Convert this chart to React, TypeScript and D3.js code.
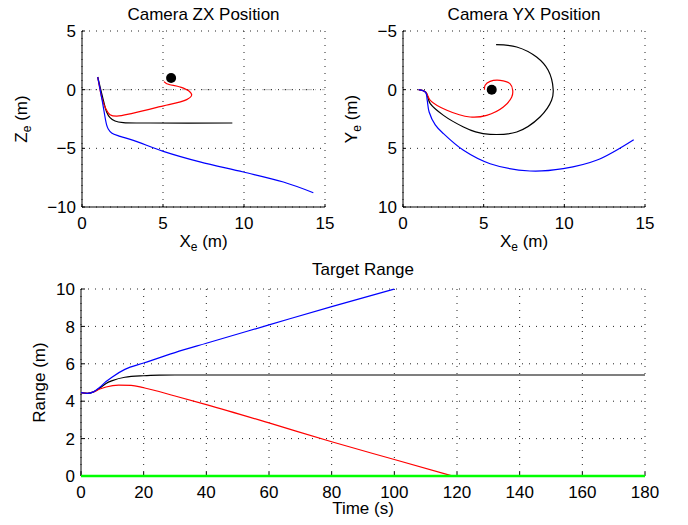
import React from 'react';
import * as d3 from 'd3';

// ---- Camera ZX position (x, z) ----
const zxBlueX = [0.97, 1.25, 1.52, 1.62, 1.83, 2.35, 3.17, 5.02, 7.28, 9.96, 12.43, 14.28];
const zxBlueZ = [1.08, -0.95, -3.0, -3.35, -3.69, -3.98, -4.32, -5.26, -6.16, -7.02, -7.87, -8.78];
const zxBlackX = [0.97, 1.32, 1.52, 1.73, 2.04, 2.55, 4.2, 9.28];
const zxBlackZ = [1.08, -0.91, -1.9, -2.39, -2.67, -2.81, -2.84, -2.84];
const zxRedX = [0.97, 1.21, 1.42, 1.73, 2.14, 3.17, 4.81, 6.46, 6.77, 6.6, 6.05, 5.23, 5.06];
const zxRedZ = [1.08, -0.63, -1.48, -2.13, -2.26, -2.0, -1.45, -0.85, -0.45, -0.11, 0.23, 0.51, 0.68];

// ---- Camera YX position (x, y) ----
const yxBlackX = [0.97, 1.4, 1.69, 2.51, 3.75, 4.5, 5.4, 7.05, 8.49, 9.21, 9.31, 9.0, 8.28, 7.05, 5.77];
const yxBlackY = [0, 0.2, 1.19, 2.19, 3.18, 3.6, 3.81, 3.61, 2.33, 0.91, 0, -1.65, -2.78, -3.64, -3.84];
const yxRedX = [0.97, 1.4, 1.69, 2.72, 4.16, 5.19, 6.22, 6.74, 6.8, 6.63, 6.02, 5.4, 5.09, 5.05];
const yxRedY = [0, 0.2, 0.91, 1.76, 2.33, 2.19, 1.48, 0.63, 0.06, -0.51, -0.8, -0.71, -0.37, 0.0];
const yxBlueX = [0.97, 1.4, 1.5, 1.62, 2.0, 2.51, 3.75, 5.4, 7.87, 9.93, 11.99, 14.3];
const yxBlueY = [0, 0.22, 0.9, 1.9, 3.0, 3.75, 5.17, 6.31, 6.93, 6.73, 6.02, 4.26];

const target = { x: 5.5, z: 1.0, y: 0 };

// ---- Target range vs time ----
const blueT = [0, 2, 4, 6, 8, 10, 14, 20, 30, 40, 60, 80, 100];
const blueR = [4.46, 4.42, 4.5, 4.75, 5.05, 5.3, 5.7, 6.04, 6.6, 7.1, 8.08, 9.06, 10.0];
const blackT = [0, 2, 4, 6, 8, 10, 14, 20, 25, 30, 180];
const blackR = [4.46, 4.42, 4.5, 4.7, 4.95, 5.1, 5.28, 5.36, 5.39, 5.4, 5.4];
const redT = [0, 2, 4, 6, 8, 12, 16, 20, 30, 40, 60, 80, 100, 118.5];
const redR = [4.46, 4.42, 4.5, 4.65, 4.76, 4.86, 4.85, 4.72, 4.28, 3.82, 2.84, 1.83, 0.88, 0];
const greenT = [0, 180];
const greenR = [0, 0];

const posTicksX = [0, 5, 10, 15];
const zxTicks = [5, 0, -5, -10];
const yxTicks = [-5, 0, 5, 10];
const timeTicks = [0, 20, 40, 60, 80, 100, 120, 140, 160, 180];
const rangeTicks = [0, 2, 4, 6, 8, 10];

const FONT = 'Liberation Sans, Arial, Helvetica, sans-serif';
const FS = 17;
const fmt = (v: number) => (v < 0 ? '\u2212' + Math.abs(v) : String(v));

const zip = (xs: number[], ys: number[]) => xs.map((x, i) => [x, ys[i]] as [number, number]);

type Scale = d3.ScaleLinear<number, number>;

const Axes: React.FC<{ x: Scale; y: Scale; xt: number[]; yt: number[]; tick: number }> = ({ x, y, xt, yt, tick }) => {
  const [x0, x1] = x.range();
  const ys = y.range();
  const yb = Math.max(...ys);
  const ytop = Math.min(...ys);
  return (
    <g>
      {xt.map((t) => (
        <line key={'gx' + t} x1={x(t)} x2={x(t)} y1={ytop} y2={yb} stroke="#222" strokeDasharray="1,6" />
      ))}
      {yt.map((t) => (
        <line key={'gy' + t} x1={x0} x2={x1} y1={y(t)} y2={y(t)} stroke="#222" strokeDasharray="1,6" />
      ))}
      <line x1={x0} x2={x1} y1={yb} y2={yb} stroke="#000" />
      <line x1={x0} x2={x0} y1={ytop} y2={yb} stroke="#000" />
      {xt.map((t) => (
        <g key={'tx' + t}>
          <line x1={x(t)} x2={x(t)} y1={yb} y2={yb - tick} stroke="#000" />
          <text x={x(t)} y={yb + 21.5} textAnchor="middle" fontSize={FS} fontFamily={FONT}>
            {fmt(t)}
          </text>
        </g>
      ))}
      {yt.map((t) => (
        <g key={'ty' + t}>
          <line x1={x0} x2={x0 + tick} y1={y(t)} y2={y(t)} stroke="#000" />
          <text x={x0 - 6} y={y(t)} dy="0.36em" textAnchor="end" fontSize={FS} fontFamily={FONT}>
            {fmt(t)}
          </text>
        </g>
      ))}
    </g>
  );
};

export default function App() {
  const xA = d3.scaleLinear().domain([0, 15]).range([82, 325]);
  const zA = d3.scaleLinear().domain([-10, 5]).range([207, 31]);
  const xB = d3.scaleLinear().domain([0, 15]).range([403, 645]);
  const yB = d3.scaleLinear().domain([-5, 10]).range([31, 207]);
  const tC = d3.scaleLinear().domain([0, 180]).range([81, 645]);
  const rC = d3.scaleLinear().domain([0, 10]).range([476, 289]);

  const pathA = d3.line<[number, number]>().x((d) => xA(d[0])).y((d) => zA(d[1])).curve(d3.curveCatmullRom.alpha(0.5));
  const pathB = d3.line<[number, number]>().x((d) => xB(d[0])).y((d) => yB(d[1])).curve(d3.curveCatmullRom.alpha(0.5));
  const pathC = d3.line<[number, number]>().x((d) => tC(d[0])).y((d) => rC(d[1])).curve(d3.curveMonotoneX);

  const sub = (main: string, s: string, rest: string) => (
    <>
      {main}
      <tspan fontSize={12} dy={4}>{s}</tspan>
      <tspan dy={-4}>{rest}</tspan>
    </>
  );

  return (
    <svg width={688} height={525} style={{ position: 'absolute', left: 0, top: 0, background: '#fff' }} fontFamily={FONT}>
      <rect width={688} height={525} fill="#fff" />

      {/* Camera ZX */}
      <line x1={xA(0)} x2={xA(15)} y1={zA(0)} y2={zA(0)} stroke="#bbb" strokeDasharray="10,3,1,6" />
      <Axes x={xA} y={zA} xt={posTicksX} yt={zxTicks} tick={3} />
      <path d={pathA(zip(zxBlackX, zxBlackZ)) ?? ''} fill="none" stroke="#000" strokeWidth={1.2} />
      <path d={pathA(zip(zxRedX, zxRedZ)) ?? ''} fill="none" stroke="#f00" strokeWidth={1.2} />
      <path d={pathA(zip(zxBlueX, zxBlueZ)) ?? ''} fill="none" stroke="#00f" strokeWidth={1.2} />
      <circle cx={xA(target.x)} cy={zA(target.z)} r={5} fill="#000" />
      <text x={203.5} y={20} textAnchor="middle" fontSize={FS}>Camera ZX Position</text>
      <text x={203.5} y={247} textAnchor="middle" fontSize={FS}>{sub('X', 'e', ' (m)')}</text>
      <text transform="translate(27,119) rotate(-90)" textAnchor="middle" fontSize={FS}>{sub('Z', 'e', ' (m)')}</text>

      {/* Camera YX */}
      <Axes x={xB} y={yB} xt={posTicksX} yt={yxTicks} tick={3} />
      <path d={pathB(zip(yxBlackX, yxBlackY)) ?? ''} fill="none" stroke="#000" strokeWidth={1.2} />
      <path d={pathB(zip(yxRedX, yxRedY)) ?? ''} fill="none" stroke="#f00" strokeWidth={1.2} />
      <path d={pathB(zip(yxBlueX, yxBlueY)) ?? ''} fill="none" stroke="#00f" strokeWidth={1.2} />
      <circle cx={xB(target.x)} cy={yB(target.y)} r={5} fill="#000" />
      <text x={524} y={20} textAnchor="middle" fontSize={FS}>Camera YX Position</text>
      <text x={524} y={247} textAnchor="middle" fontSize={FS}>{sub('X', 'e', ' (m)')}</text>
      <text transform="translate(357,119) rotate(-90)" textAnchor="middle" fontSize={FS}>{sub('Y', 'e', ' (m)')}</text>

      {/* Target range */}
      <Axes x={tC} y={rC} xt={timeTicks} yt={rangeTicks} tick={4} />
      <path d={pathC(zip(blackT, blackR)) ?? ''} fill="none" stroke="#000" strokeWidth={1.2} />
      <path d={pathC(zip(redT, redR)) ?? ''} fill="none" stroke="#f00" strokeWidth={1.2} />
      <path d={pathC(zip(blueT, blueR)) ?? ''} fill="none" stroke="#00f" strokeWidth={1.2} />
      <path d={pathC(zip(greenT, greenR)) ?? ''} fill="none" stroke="#0f0" strokeWidth={2.5} />
      <text x={363} y={275} textAnchor="middle" fontSize={FS}>Target Range</text>
      <text x={363} y={514} textAnchor="middle" fontSize={FS}>Time (s)</text>
      <text transform="translate(45,382.5) rotate(-90)" textAnchor="middle" fontSize={FS}>Range (m)</text>
    </svg>
  );
}
